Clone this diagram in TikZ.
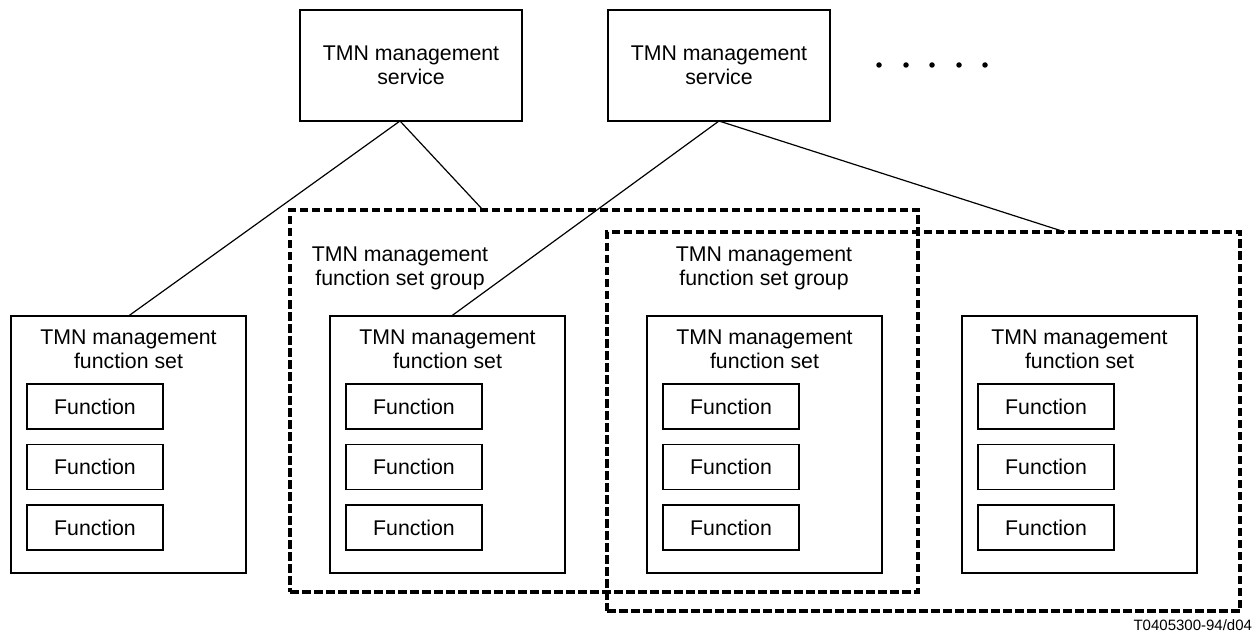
\documentclass[tikz,border=0pt]{standalone}
\usepackage{fontspec}
\setmainfont{Liberation Sans}
\usetikzlibrary{calc}
\begin{document}
\begin{tikzpicture}[x=1pt,y=-1pt,
  every node/.style={font=\fontsize{21.3}{24}\selectfont, inner sep=0pt, outer sep=0pt},
  servbox/.style={draw, line width=1.3pt, minimum width=222pt, minimum height=111pt, align=center},
  fsbox/.style={draw, line width=1.3pt, minimum width=235pt, minimum height=257pt},
  funcbox/.style={draw, line width=1.3pt, minimum width=136pt, minimum height=45pt},
  grpbox/.style={draw, line width=3.4pt, dash pattern=on 8.5pt off 3.5pt, minimum width=#1},
  lbl/.style={align=center},
  conn/.style={line width=1.2pt},
  dotstyle/.style={fill, circle, minimum size=5.5pt}
]
\useasboundingbox (0,0) rectangle (1256,639);

% groups (dashed)
\node[grpbox=628pt, minimum height=382pt] (g1) at (604,401) {};
\node[grpbox=633pt, minimum height=379pt] (g2) at (923.5,421.5) {};

% services
\node[servbox] (s1) at (411,65.5) {TMN management\\service};
\node[servbox] (s2) at (719,65.5) {TMN management\\service};

% dots
\foreach \i/\x in {1/879,2/906,3/932,4/959,5/985}
  \node[dotstyle] (d\i) at (\x,65) {};

% group labels
\node[lbl] (g1l) at (400,268) {TMN management\\function set group};
\node[lbl] (g2l) at (764,268) {TMN management\\function set group};

% function sets
\foreach \n/\l in {1/11,2/330,3/647,4/962}{
  \node[fsbox] (fs\n) at (\l+117.5,444.5) {};
  \node[lbl] (fs\n l) at (\l+117.5,349) {TMN management\\function set};
  \node[funcbox] (f\n a) at (\l+84,406.5) {Function};
  \node[funcbox] (f\n b) at (\l+84,467) {Function};
  \node[funcbox] (f\n c) at (\l+84,527.5) {Function};
}

% connectors
\coordinate (s1a) at ($(s1.south)+(-11,0)$);
\coordinate (g1t) at ($(g1.north)+(-121,0)$);
\coordinate (g2t) at ($(g2.north)+(141.5,0)$);
\coordinate (fs2t) at ($(fs2.north)+(4,0)$);
\draw[conn] (s1a) -- (fs1.north);
\draw[conn] (s1a) -- (g1t);
\draw[conn] (s2.south) -- (fs2t);
\draw[conn] (s2.south) -- (g2t);

% caption
\node[anchor=east, font=\fontsize{15}{18}\selectfont] (cap) at (1252,625) {T0405300-94/d04};
\end{tikzpicture}
\end{document}
